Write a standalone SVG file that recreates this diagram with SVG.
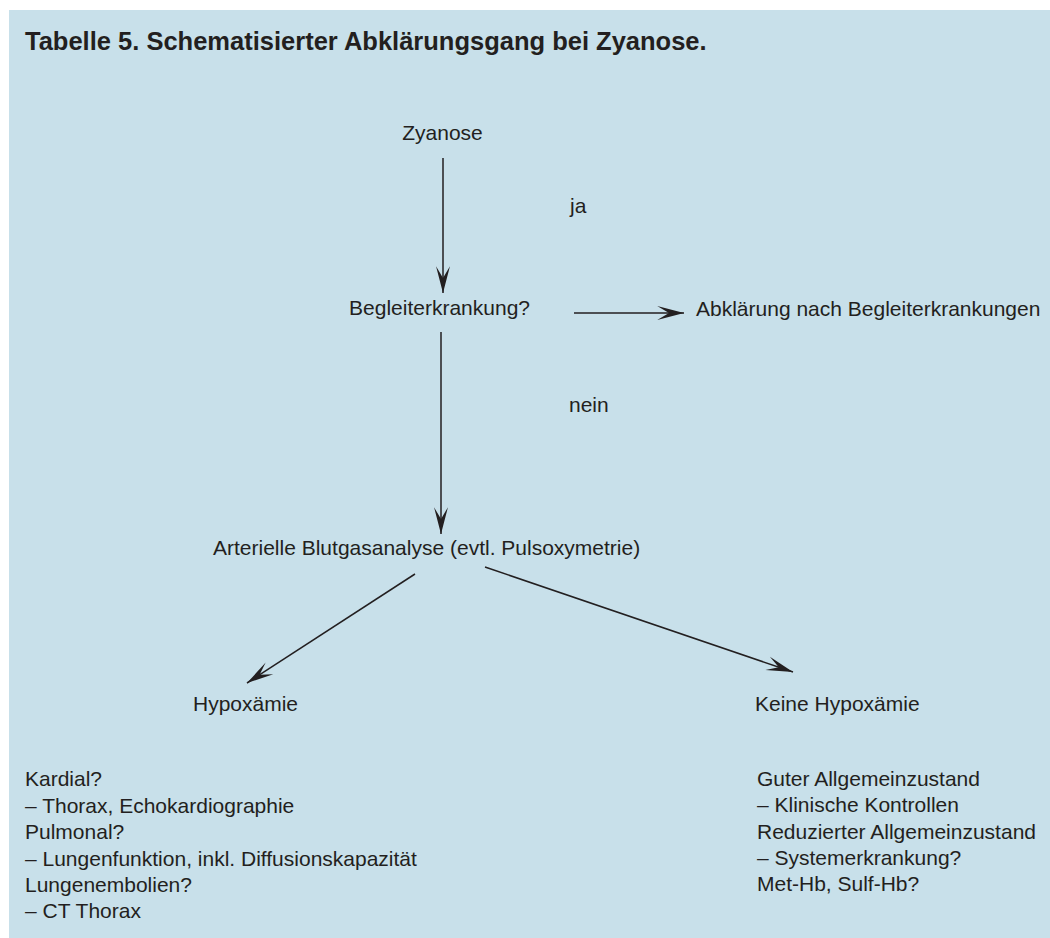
<svg xmlns="http://www.w3.org/2000/svg" width="1050" height="938" viewBox="0 0 1050 938">
  <style>
    .t { font-family: "Liberation Sans", Arial, Helvetica, sans-serif; font-size: 21px; fill: #231f20; }
    .title { font-family: "Liberation Sans", Arial, Helvetica, sans-serif; font-size: 25.5px; font-weight: bold; fill: #231f20; }
    .c { stroke: #231f20; stroke-width: 1.5; fill: none; marker-end: url(#ah); }
  </style>
  <defs>
    <marker id="ah" markerUnits="userSpaceOnUse" markerWidth="30" markerHeight="20" viewBox="-26 -8 28 16" refX="0" refY="0" orient="auto">
      <path d="M0,0 L-25,-6.5 L-14,0 L-25,6.5 Z" fill="#231f20"/>
    </marker>
  </defs>
  <rect x="0" y="0" width="1050" height="938" fill="#ffffff"/>
  <rect x="9" y="10" width="1041" height="928" fill="#c8e0ea"/>
  <text class="title" x="25" y="50">Tabelle 5. Schematisierter Abklärungsgang bei Zyanose.</text>

  <g id="connectors">
    <line class="c" x1="443" y1="158" x2="443" y2="293"/>
    <line class="c" x1="574" y1="313" x2="684" y2="313"/>
    <line class="c" x1="441" y1="332" x2="441" y2="534"/>
    <line class="c" x1="415" y1="574" x2="247" y2="683"/>
    <line class="c" x1="485" y1="567" x2="793" y2="672"/>
  </g>

  <g id="label-ja"><text class="t" x="570" y="213">ja</text></g>
  <g id="label-nein"><text class="t" x="569" y="412">nein</text></g>

  <g id="node-zyanose"><text class="t" x="442.5" y="140" text-anchor="middle">Zyanose</text></g>
  <g id="node-begleit"><text class="t" x="530" y="315" text-anchor="end">Begleiterkrankung?</text></g>
  <g id="node-abkl"><text class="t" x="696" y="316">Abklärung nach Begleiterkrankungen</text></g>
  <g id="node-bga"><text class="t" x="213" y="555">Arterielle Blutgasanalyse (evtl. Pulsoxymetrie)</text></g>
  <g id="node-hypox"><text class="t" x="193" y="711">Hypoxämie</text></g>
  <g id="node-keine"><text class="t" x="755" y="711">Keine Hypoxämie</text></g>

  <g id="node-hypox-details">
    <text class="t" x="25" y="786">Kardial?</text>
    <text class="t" x="25" y="812.5">– Thorax, Echokardiographie</text>
    <text class="t" x="25" y="839">Pulmonal?</text>
    <text class="t" x="25" y="865.5">– Lungenfunktion, inkl. Diffusionskapazität</text>
    <text class="t" x="25" y="892">Lungenembolien?</text>
    <text class="t" x="25" y="918">– CT Thorax</text>
  </g>
  <g id="node-keine-details">
    <text class="t" x="757" y="786">Guter Allgemeinzustand</text>
    <text class="t" x="757" y="812">– Klinische Kontrollen</text>
    <text class="t" x="757" y="838.5">Reduzierter Allgemeinzustand</text>
    <text class="t" x="757" y="865">– Systemerkrankung?</text>
    <text class="t" x="757" y="891">Met-Hb, Sulf-Hb?</text>
  </g>
</svg>
